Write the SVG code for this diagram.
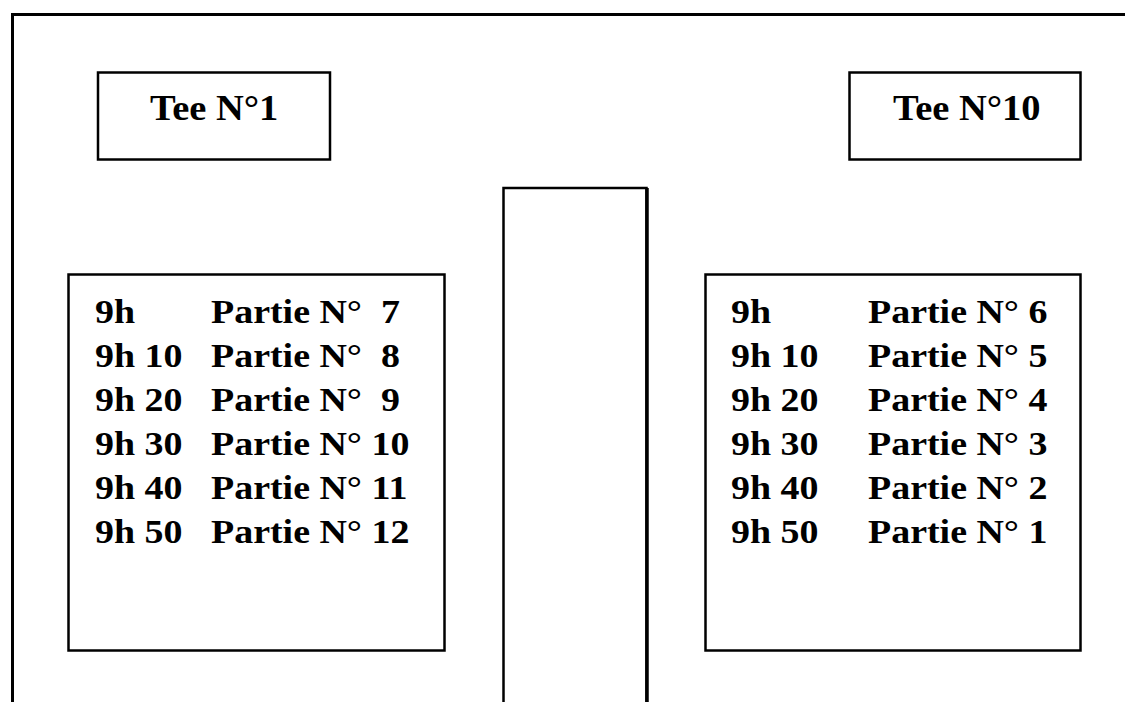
<svg xmlns="http://www.w3.org/2000/svg" width="1125" height="702" viewBox="0 0 1125 702">
<style>
.b{fill:none;stroke:#000;stroke-width:2.5}
.t{font-family:"Liberation Serif","Times New Roman",serif;font-weight:bold;font-size:33px;fill:#000}
.h{font-family:"Liberation Serif","Times New Roman",serif;font-weight:bold;font-size:35px;fill:#000}
</style>
<rect x="0" y="0" width="1125" height="702" fill="#fff"/>
<g id="border"><path d="M12.5 710 V14.5 H1130" fill="none" stroke="#000" stroke-width="3"/></g>
<g id="tee1"><rect class="b" x="98" y="72.5" width="232" height="87"/><text class="h" transform="translate(150,120) scale(1.1,1)">Tee N°1</text></g>
<g id="tee10"><rect class="b" x="849.5" y="72.5" width="231" height="87"/><text class="h" transform="translate(893,120) scale(1.1,1)">Tee N°10</text></g>
<g id="center"><path d="M503.5 710 V188 H646.5 V710" fill="none" stroke="#000" stroke-width="2.5"/><line x1="647" y1="188" x2="647" y2="710" stroke="#000" stroke-width="3.5"/></g>
<g id="left">
<rect class="b" x="68.5" y="274.5" width="376" height="376"/>
<text class="t" transform="translate(95,323) scale(1.15,1)">9h</text><text class="t" transform="translate(211,323) scale(1.15,1)">Partie N°</text><text class="t" transform="translate(381,323) scale(1.15,1)">7</text>
<text class="t" transform="translate(95,367) scale(1.15,1)">9h 10</text><text class="t" transform="translate(211,367) scale(1.15,1)">Partie N°</text><text class="t" transform="translate(381,367) scale(1.15,1)">8</text>
<text class="t" transform="translate(95,411) scale(1.15,1)">9h 20</text><text class="t" transform="translate(211,411) scale(1.15,1)">Partie N°</text><text class="t" transform="translate(381,411) scale(1.15,1)">9</text>
<text class="t" transform="translate(95,455) scale(1.15,1)">9h 30</text><text class="t" transform="translate(211,455) scale(1.15,1)">Partie N° 10</text>
<text class="t" transform="translate(95,499) scale(1.15,1)">9h 40</text><text class="t" transform="translate(211,499) scale(1.15,1)">Partie N° 11</text>
<text class="t" transform="translate(95,543) scale(1.15,1)">9h 50</text><text class="t" transform="translate(211,543) scale(1.15,1)">Partie N° 12</text>
</g>
<g id="right">
<rect class="b" x="705.5" y="274.5" width="375" height="376"/>
<text class="t" transform="translate(731,323) scale(1.15,1)">9h</text><text class="t" transform="translate(868,323) scale(1.15,1)">Partie N° 6</text>
<text class="t" transform="translate(731,367) scale(1.15,1)">9h 10</text><text class="t" transform="translate(868,367) scale(1.15,1)">Partie N° 5</text>
<text class="t" transform="translate(731,411) scale(1.15,1)">9h 20</text><text class="t" transform="translate(868,411) scale(1.15,1)">Partie N° 4</text>
<text class="t" transform="translate(731,455) scale(1.15,1)">9h 30</text><text class="t" transform="translate(868,455) scale(1.15,1)">Partie N° 3</text>
<text class="t" transform="translate(731,499) scale(1.15,1)">9h 40</text><text class="t" transform="translate(868,499) scale(1.15,1)">Partie N° 2</text>
<text class="t" transform="translate(731,543) scale(1.15,1)">9h 50</text><text class="t" transform="translate(868,543) scale(1.15,1)">Partie N° 1</text>
</g>
<g id="connectors"/>
</svg>
